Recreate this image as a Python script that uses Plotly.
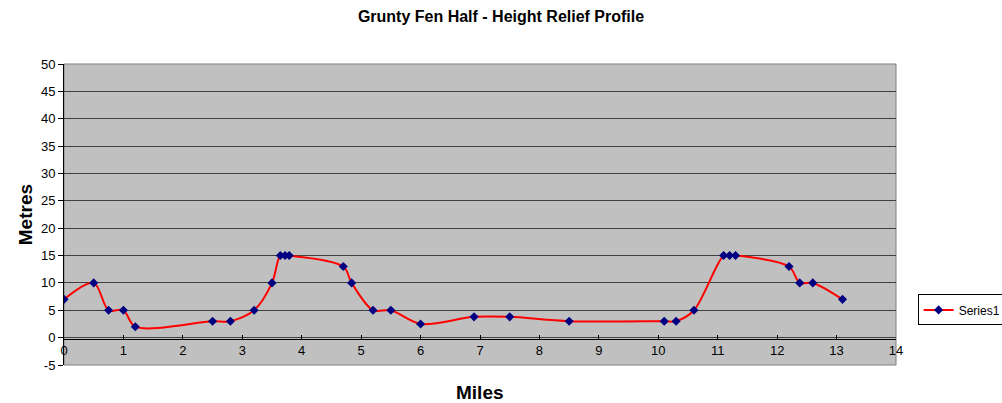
import plotly.graph_objects as go

miles = [0, 0.5, 0.75, 1.0, 1.2, 2.5, 2.8, 3.2, 3.5, 3.64, 3.72, 3.79, 4.7, 4.84, 5.2, 5.5,
         6.0, 6.9, 7.5, 8.5, 10.1, 10.3, 10.6, 11.1, 11.2, 11.3, 12.2, 12.38, 12.6, 13.1]
metres = [7, 10, 5, 5, 2, 3, 3, 5, 10, 15, 15, 15, 13, 10, 5, 5,
          2.5, 3.8, 3.8, 3, 3, 3, 5, 15, 15, 15, 13, 10, 10, 7]
x_ticks = list(range(0, 15))
y_ticks = list(range(-5, 51, 5))

font = "Liberation Sans, Arial, sans-serif"

fig = go.Figure()
fig.add_trace(go.Scatter(
    x=miles, y=metres, mode="lines+markers", name="Series1",
    line=dict(color="#FF0000", width=2, shape="spline", smoothing=0.9),
    marker=dict(symbol="diamond", color="#000080", size=7),
))

fig.update_layout(
    width=1002, height=403,
    margin=dict(l=64, r=106, t=64, b=38, autoexpand=False),
    paper_bgcolor="white", plot_bgcolor="#C0C0C0",
    font=dict(family=font, size=13, color="#000000"),
    title=dict(text="<b>Grunty Fen Half - Height Relief Profile</b>", x=0.5, xref="container",
               xanchor="center", y=0.96, yanchor="middle", font=dict(size=16, family=font)),
    showlegend=True,
    legend=dict(x=1.026, y=0.183, xanchor="left", yanchor="middle",
                bordercolor="#000000", borderwidth=1, bgcolor="white",
                itemwidth=30, tracegroupgap=0,
                font=dict(size=12, family=font)),
    xaxis=dict(range=[0, 14], tickvals=x_ticks, ticktext=[str(t) for t in x_ticks],
               showgrid=False, zeroline=False, showline=True, linecolor="#000000", linewidth=1,
               ticks="inside", ticklen=4, tickcolor="#000000",
               anchor="free", position=0.088, side="bottom",
               tickfont=dict(size=13, family=font)),
    yaxis=dict(range=[-5, 50], tickvals=y_ticks, ticktext=[str(t) for t in y_ticks],
               showgrid=True, gridcolor="#404040", gridwidth=1, zeroline=False,
               showline=True, linecolor="#000000", linewidth=1,
               ticks="outside", ticklen=5, tickcolor="#000000",
               tickfont=dict(size=13, family=font)),
)

fig.add_shape(type="rect", xref="x domain", yref="y domain", x0=0, x1=1, y0=0, y1=1,
              line=dict(color="#808080", width=1), layer="below")

fig.add_annotation(text="<b>Miles</b>", xref="paper", yref="paper", x=0.5, y=-0.093,
                   yanchor="middle", showarrow=False, font=dict(size=19, family=font))
fig.add_annotation(text="<b>Metres</b>", xref="paper", yref="paper", x=-0.046, y=0.5,
                   xanchor="center", textangle=-90, showarrow=False, font=dict(size=19, family=font))

fig.write_html("out.html", config={"displayModeBar": False},
               post_script="document.body.style.margin='0';")
